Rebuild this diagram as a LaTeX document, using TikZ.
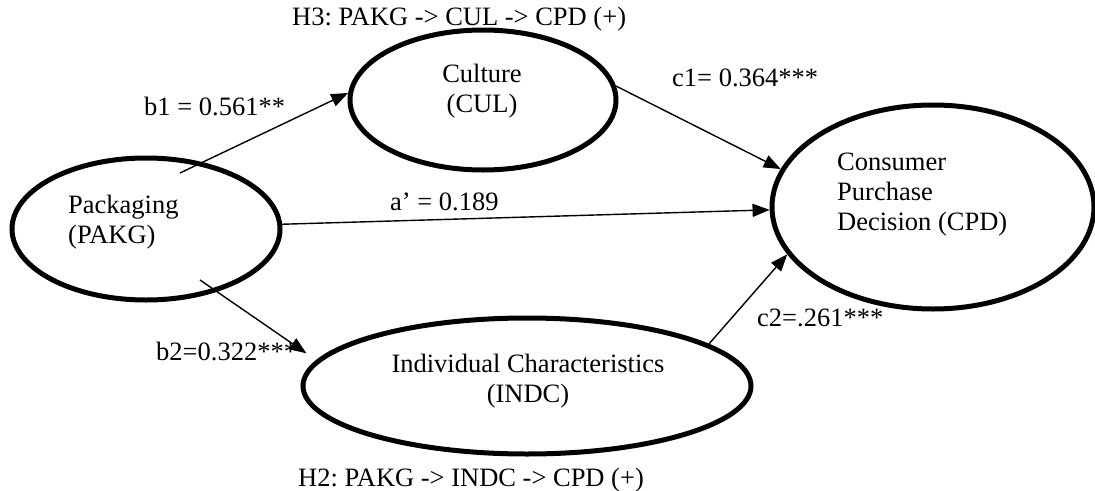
\documentclass[tikz,border=0pt]{standalone}
\usepackage{fontspec}
\setmainfont{Liberation Serif}
\usetikzlibrary{arrows.meta, shapes.geometric}
\frenchspacing

\begin{document}
\begin{tikzpicture}[x=1pt, y=-1pt,
    latent/.style={draw, ellipse, line width=5pt, inner sep=0pt},
    effect/.style={-{Triangle[length=17pt,width=13pt]}, line width=1.4pt},
    lbl/.style={font=\fontsize{26.5}{30}\selectfont, inner sep=0pt}]
  \useasboundingbox (0,0) rectangle (1095,490);

  % Constructs
  \node[latent, minimum width=268pt, minimum height=142pt] (pakg) at (146,229) {};
  \node[latent, minimum width=266pt, minimum height=140pt] (cul) at (483,100) {};
  \node[latent, minimum width=322pt, minimum height=204pt] (cpd) at (933,207) {};
  \node[latent, minimum width=448pt, minimum height=136pt] (indc) at (527,386) {};

  % base anchor sits on the last line
  \node[lbl, anchor=base west, align=left] (pakgtxt) at (68,243) {Packaging\\(PAKG)};
  \node[lbl, anchor=base, align=center] (cultxt) at (482,112) {Culture\\(CUL)};
  \node[lbl, anchor=base west, align=left] (cpdtxt) at (837,230) {Consumer\\Purchase\\Decision (CPD)};
  \node[lbl, anchor=base, align=center] (indctxt) at (528,402) {Individual Characteristics\\(INDC)};

  % Paths
  \coordinate (b1start) at (180,173);
  \coordinate (b2start) at (200,280);
  \draw[effect] (b1start) -- (cul.177);
  \draw[effect] (cul.6) -- (cpd.166);
  \draw[effect] (pakg.2) -- (cpd.181);
  \draw[effect, shorten >=12pt] (b2start) -- (indc.173);
  \draw[effect] (indc.13) -- (cpd.198);

  % Coefficients
  \node[lbl, anchor=base west] (b1) at (144,115) {b1 = 0.561**};
  \node[lbl, anchor=base west] (c1) at (672,86) {c1= 0.364***};
  \node[lbl, anchor=base west] (a) at (390,210) {a’ = 0.189};
  \node[lbl, anchor=base west] (b2) at (156,360) {b2=0.322***};
  \node[lbl, anchor=base west] (c2) at (757,326) {c2=.261***};

  % Hypotheses
  \node[lbl, anchor=base west] (h3) at (292,25) {H3: PAKG -> CUL -> CPD (+)};
  \node[lbl, anchor=base west] (h2) at (298,486) {H2: PAKG -> INDC -> CPD (+)};
\end{tikzpicture}
\end{document}
